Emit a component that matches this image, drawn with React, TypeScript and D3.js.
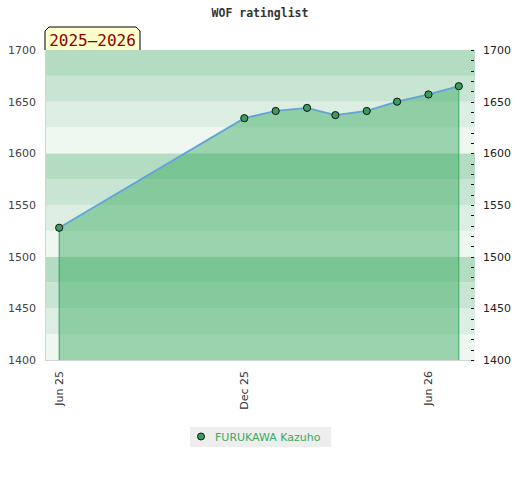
import * as d3 from 'd3'

// rating history
const dates = ['2025-06-01', '2025-12-01', '2026-01-01', '2026-02-01', '2026-03-01', '2026-04-01', '2026-05-01', '2026-06-01', '2026-07-01']
const ratings = [1528, 1634, 1641, 1644, 1637, 1641, 1650, 1657, 1665]
const xTicks = ['2025-06-01', '2025-12-01', '2026-06-01']
const yLabels = [1400, 1450, 1500, 1550, 1600, 1650, 1700]
const playerName = 'FURUKAWA Kazuho'
const seasonLabel = '2025–2026'
const chartTitle = 'WOF ratinglist'

const width = 520
const height = 480
const left = 45
const right = 475
const top = 50
const bottom = 360

const bandColors = ['#eff7f1', '#dceee2', '#c8e5d3', '#b3dcc2']

export default function App() {
  const parse = d3.utcParse('%Y-%m-%d')
  const points = dates.map((d, i) => ({ date: parse(d) as Date, value: ratings[i] }))

  const x = d3.scaleUtc()
    .domain([parse('2025-05-18') as Date, parse('2026-07-17') as Date])
    .range([left, right])
  const y = d3.scaleLinear().domain([1400, 1700]).range([bottom, top])

  const line = d3.line<{ date: Date; value: number }>()
    .x(d => x(d.date))
    .y(d => y(d.value))
  const area = d3.area<{ date: Date; value: number }>()
    .x(d => x(d.date))
    .y0(y(1400))
    .y1(d => y(d.value))

  const bands = d3.range(1400, 1700, 25)
  const minor = d3.range(1400, 1701, 10)
  const fmt = d3.utcFormat('%b %y')
  const first = points[0]
  const last = points[points.length - 1]

  return (
    <svg width={width} height={height} style={{ position: 'absolute', left: 0, top: 0, background: '#fff' }}>
      <text x={260} y={17} textAnchor="middle" fontFamily="DejaVu Sans Mono" fontWeight="bold" fontSize={11.5} fill="#333">
        {chartTitle}
      </text>

      {bands.map(lo => (
        <rect key={lo} x={left} y={y(lo + 25)} width={right - left} height={y(lo) - y(lo + 25)}
          fill={bandColors[(lo % 100) / 25]} />
      ))}

      <path d={area(points) ?? ''} fill="rgb(50,167,90)" fillOpacity={0.45} />
      <line x1={x(first.date)} x2={x(first.date)} y1={y(first.value)} y2={bottom} stroke="#3a9d5d" strokeWidth={1} />
      <line x1={x(last.date)} x2={x(last.date)} y1={y(last.value)} y2={bottom} stroke="#3aaa5e" strokeWidth={1} />
      <path d={line(points) ?? ''} fill="none" stroke="#62a3d9" strokeWidth={1.8} />
      {points.map((p, i) => (
        <circle key={i} cx={x(p.date)} cy={y(p.value)} r={3.6} fill="#3a9d5d" stroke="#111" strokeWidth={1} />
      ))}

      <line x1={left + 0.5} x2={left + 0.5} y1={top} y2={bottom} stroke="#d4d4d4" />
      <line x1={left} x2={right} y1={bottom + 0.5} y2={bottom + 0.5} stroke="#d4d4d4" />

      {minor.map(v => (
        <line key={v} x1={right - 4} x2={right - 1} y1={Math.round(y(v)) + 0.5} y2={Math.round(y(v)) + 0.5} stroke="#111" />
      ))}

      {yLabels.map(v => (
        <g key={v} fontFamily="DejaVu Sans" fontSize={11}>
          <text x={36} y={y(v)} dy="0.35em" textAnchor="end" fill="#444">{v}</text>
          <text x={483} y={y(v)} dy="0.35em" textAnchor="start" fill="#222">{v}</text>
        </g>
      ))}

      {xTicks.map(t => {
        const d = parse(t) as Date
        return (
          <text key={t} transform={`translate(${x(d)},371) rotate(-90)`} dy="0.35em" textAnchor="end"
            fontFamily="DejaVu Sans" fontSize={11} fill="#333">
            {fmt(d)}
          </text>
        )
      })}

      <path d={`M${left},${top} L${left},31 L49,27 L136,27 L140,31 L140,${top}`} fill="#ffffcc" stroke="#000" strokeWidth={1} />
      <text x={92.5} y={46} textAnchor="middle" fontFamily="DejaVu Sans Mono" fontSize={16} fill="#8b0000">
        {seasonLabel}
      </text>

      <rect x={190} y={427} width={141} height={20} fill="#eeeeee" />
      <circle cx={201} cy={436.5} r={3.5} fill="#3a9d5d" stroke="#111" strokeWidth={1} />
      <text x={215} y={440.5} fontFamily="DejaVu Sans" fontSize={11} fill="#3aaa5e">{playerName}</text>
    </svg>
  )
}
